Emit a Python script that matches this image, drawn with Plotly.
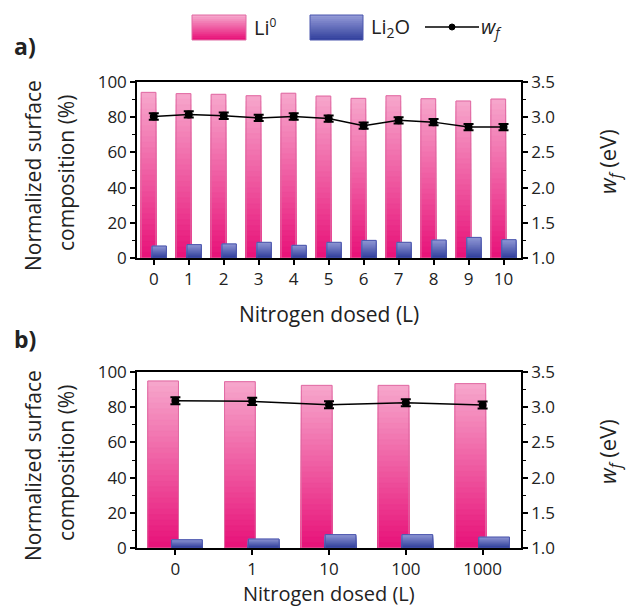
import plotly.graph_objects as go

# ---------------- data ----------------
cats_a = ["0", "1", "2", "3", "4", "5", "6", "7", "8", "9", "10"]
li0_a = [94.1, 93.4, 93.0, 92.2, 93.6, 92.0, 90.7, 92.2, 90.5, 89.2, 90.3]
li2o_a = [6.8, 7.6, 8.0, 8.9, 7.2, 8.9, 10.0, 8.9, 10.2, 11.7, 10.4]
wf_a = [3.01, 3.04, 3.02, 2.99, 3.01, 2.98, 2.88, 2.955, 2.93, 2.86, 2.86]
wf_err_a = [0.045, 0.045, 0.045, 0.045, 0.045, 0.045, 0.045, 0.045, 0.045, 0.045, 0.045]

cats_b = ["0", "1", "10", "100", "1000"]
li0_b = [94.9, 94.5, 92.4, 92.4, 93.4]
li2o_b = [4.7, 5.1, 7.6, 7.6, 6.2]
wf_b = [3.093, 3.083, 3.036, 3.064, 3.031]
wf_err_b = [0.05, 0.05, 0.05, 0.05, 0.05]

left_ticks = [0, 20, 40, 60, 80, 100]
right_ticks = [1.0, 1.5, 2.0, 2.5, 3.0, 3.5]

W, H = 629, 607
FONT = "Open Sans"

PINK_TOP, PINK_BOT, PINK_LINE = (246, 165, 203), (232, 20, 122), "#e06aa3"
BLUE_TOP, BLUE_BOT, BLUE_LINE = (146, 153, 214), (52, 66, 158), "#4b56ad"
N_LAYERS = 30


def mix(c1, c2, t):
    return "rgb(%d,%d,%d)" % tuple(round(a + (b - a) * t) for a, b in zip(c1, c2))


def px_x(p):
    return p / W


def px_y(p):
    return 1 - p / H


fig = go.Figure()


def add_bars(cats, vals, xa, ya, offset, width, ctop, cbot, cline):
    # stepped vertical gradient: full-height light layer, then shorter darker layers
    for k in range(N_LAYERS):
        frac = (N_LAYERS - k) / N_LAYERS
        col = mix(ctop, cbot, k / (N_LAYERS - 1))
        fig.add_trace(go.Bar(
            x=cats, y=[v * frac for v in vals], xaxis=xa, yaxis=ya,
            offset=offset, width=width,
            marker=dict(color=col, line=dict(width=0.6, color=col)),
            showlegend=False, hoverinfo="skip"))
    fig.add_trace(go.Bar(
        x=cats, y=vals, xaxis=xa, yaxis=ya, offset=offset, width=width,
        marker=dict(color="rgba(0,0,0,0)", line=dict(color=cline, width=1)),
        showlegend=False))


def add_wf(cats, vals, errs, xa, ya):
    fig.add_trace(go.Scatter(
        x=cats, y=vals, xaxis=xa, yaxis=ya, mode="lines+markers",
        line=dict(color="black", width=1.5),
        marker=dict(color="black", size=8),
        error_y=dict(type="data", array=errs, color="black", thickness=2, width=5),
        showlegend=False))


add_bars(cats_a, li0_a, "x", "y", -0.36, 0.42, PINK_TOP, PINK_BOT, PINK_LINE)
add_bars(cats_a, li2o_a, "x", "y", -0.05, 0.41, BLUE_TOP, BLUE_BOT, BLUE_LINE)
add_wf(cats_a, wf_a, wf_err_a, "x", "y2")

add_bars(cats_b, li0_b, "x2", "y3", -0.36, 0.40, PINK_TOP, PINK_BOT, PINK_LINE)
add_bars(cats_b, li2o_b, "x2", "y3", -0.05, 0.40, BLUE_TOP, BLUE_BOT, BLUE_LINE)
add_wf(cats_b, wf_b, wf_err_b, "x2", "y4")

xdom = [px_x(137), px_x(521)]
ydom_a = [px_y(258), px_y(82)]
ydom_b = [px_y(548), px_y(372)]

tickfont = dict(family=FONT, size=17, color="#222")
axline = dict(showline=True, linecolor="black", linewidth=1.5, ticks="outside",
              tickcolor="black", tickwidth=1.5, ticklen=5, showgrid=False,
              zeroline=False, tickfont=tickfont, automargin=False)

xcommon = dict(type="category", domain=xdom, mirror=True, **axline)
fig.update_layout(
    template="none",
    xaxis=dict(anchor="y", range=[-0.48, 10.5], **xcommon),
    xaxis2=dict(anchor="y3", range=[-0.5, 4.5], **xcommon),
    yaxis=dict(domain=ydom_a, anchor="x", range=[0, 100], tickvals=left_ticks,
               minor=dict(dtick=10, ticks="outside", ticklen=3, tickcolor="black", tickwidth=1),
               **axline),
    yaxis2=dict(overlaying="y", side="right", anchor="x", range=[1, 3.5],
                tickvals=right_ticks, tickformat=".1f",
                minor=dict(dtick=0.25, ticks="outside", ticklen=3, tickcolor="black", tickwidth=1),
                **axline),
    yaxis3=dict(domain=ydom_b, anchor="x2", range=[0, 100], tickvals=left_ticks,
                minor=dict(dtick=10, ticks="outside", ticklen=3, tickcolor="black", tickwidth=1),
                **axline),
    yaxis4=dict(overlaying="y3", side="right", anchor="x2", range=[1, 3.5],
                tickvals=right_ticks, tickformat=".1f",
                minor=dict(dtick=0.25, ticks="outside", ticklen=3, tickcolor="black", tickwidth=1),
                **axline),
    barmode="overlay",
    showlegend=False,
    width=W, height=H,
    margin=dict(l=0, r=0, t=0, b=0, pad=0, autoexpand=False),
    paper_bgcolor="white", plot_bgcolor="white",
    font=dict(family=FONT, color="#222"),
)

ann = []


def text(x, y, s, size=21, angle=0, bold=False, xanchor="center"):
    ann.append(dict(x=px_x(x), y=px_y(y), xref="paper", yref="paper", text=s,
                    showarrow=False, textangle=angle, xanchor=xanchor, yanchor="middle",
                    font=dict(family=FONT, size=size, color="#222",
                              weight="bold" if bold else "normal")))


for yc, lab, xlab_y in [(170, "a)", 46), (460, "b)", 339)]:
    text(12, xlab_y, lab, size=23, bold=True, xanchor="left")
    text(33, yc + 6, "Normalized surface", angle=-90)
    text(66, yc + 3, "composition (%)", angle=-90)
    text(609, yc - 8, "<i>w</i><sub><i>f</i></sub> (eV)", size=22, angle=-90)
text(329, 314, "Nitrogen dosed (L)")
text(329, 593, "Nitrogen dosed (L)", size=20)

# ---------------- custom legend ----------------
shapes = []


def legend_box(x0, x1, y0, y1, ctop, cbot, cline):
    n = 12
    step = (y1 - y0) / n
    for i in range(n):
        ya = y0 + step * i
        yb = min(y1, ya + step + 1.0)  # overlap to avoid seams
        shapes.append(dict(type="rect", xref="paper", yref="paper",
                           x0=px_x(x0), x1=px_x(x1), y0=px_y(yb), y1=px_y(ya),
                           fillcolor=mix(ctop, cbot, i / (n - 1)), line=dict(width=0)))
    shapes.append(dict(type="rect", xref="paper", yref="paper",
                       x0=px_x(x0), x1=px_x(x1), y0=px_y(y1), y1=px_y(y0),
                       fillcolor="rgba(0,0,0,0)", line=dict(color=cline, width=1)))


legend_box(192, 246, 15, 40, PINK_TOP, PINK_BOT, PINK_LINE)
legend_box(310, 363, 15, 40, BLUE_TOP, BLUE_BOT, BLUE_LINE)
shapes.append(dict(type="line", xref="paper", yref="paper", x0=px_x(425), x1=px_x(479),
                   y0=px_y(27), y1=px_y(27), line=dict(color="black", width=1.5)))
shapes.append(dict(type="circle", xref="paper", yref="paper", x0=px_x(449), x1=px_x(455),
                   y0=px_y(30), y1=px_y(24), fillcolor="black", line=dict(color="black", width=1)))

text(252, 28, "Li<sup><span style='font-size:12px'>0</span></sup>", size=20, xanchor="left")
text(369, 28, "Li<sub>2</sub>O", size=20, xanchor="left")
text(479, 28, "<i>w</i><sub><i>f</i></sub>", size=20, xanchor="left")

fig.update_layout(annotations=ann, shapes=shapes)
fig.write_html("out.html")
